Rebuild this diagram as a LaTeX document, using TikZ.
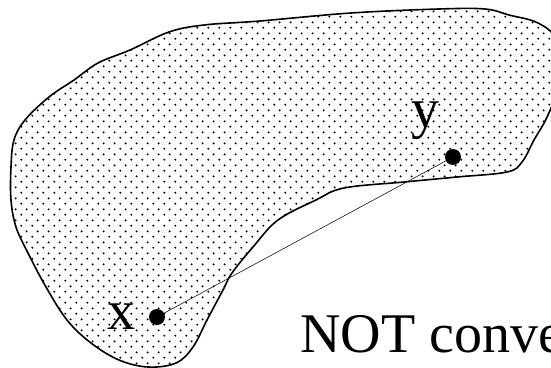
\documentclass[tikz,border=0pt]{standalone}
\usepackage{fontspec}
\setmainfont{Liberation Serif}
\usetikzlibrary{patterns,positioning}

\pgfdeclarepatternformonly{blobdots}{\pgfqpoint{-1pt}{-1pt}}{\pgfqpoint{7.1pt}{7.1pt}}{\pgfqpoint{8.1pt}{8.1pt}}{%
  \pgfpathcircle{\pgfqpoint{0pt}{0pt}}{0.85pt}%
  \pgfpathcircle{\pgfqpoint{4.05pt}{4.05pt}}{0.85pt}%
  \pgfusepath{fill}}

\begin{document}
\begin{tikzpicture}[x=0.75pt, y=-0.75pt,
    pt/.style={circle, fill=black, inner sep=0pt, minimum size=12pt},
    lbl/.style={inner sep=0pt, font=\fontsize{42}{50}\selectfont}]
    \useasboundingbox (0,0) rectangle (551,368);
    \clip (0,0) rectangle (551,368);
    % the set
    \draw[line width=1.2pt, pattern=blobdots] plot[smooth cycle, tension=0.6] coordinates {
        (260,21) (351,13) (439,9) (485,9) (509,15) (538,23) (556,40) (560,80)
        (548,115) (534,140) (522,162) (507,172) (457,177) (404,182) (344,188)
        (316,200) (278,220) (253,247) (232,273) (223,290) (207,320) (193,347)
        (176,363) (148,367) (119,360) (91,343) (67,320) (46,287) (28,253)
        (16,227) (11,200) (11,167) (14,140) (25,120) (49,97) (74,80) (98,63)
        (130,50) (169,32) (204,25)};
    \node[pt] (xpt) at (157,317) {};
    \node[pt] (ypt) at (453,157) {};
    \node[lbl, left=10pt of xpt] (xlab) {x};
    \node[lbl] (ylab) at (425,121) {y};
    \draw[thin] (xpt) -- (ypt);
    \node[lbl, anchor=base west] (note) at (300,352) {NOT convex};
\end{tikzpicture}
\end{document}
